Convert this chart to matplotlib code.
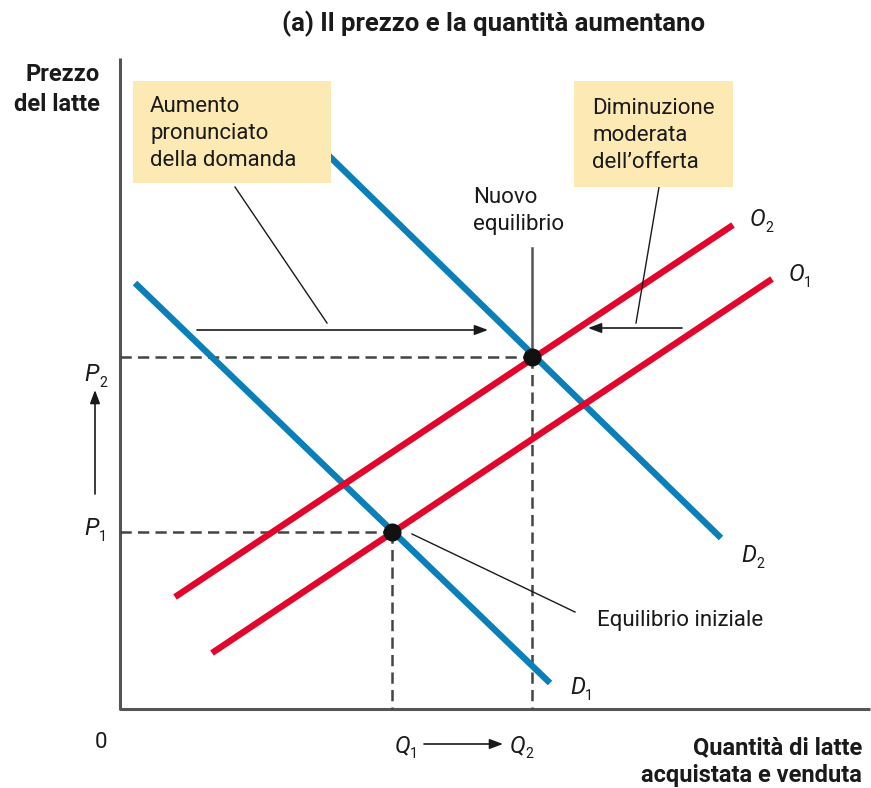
## Domanda e offerta di latte: aumento pronunciato della domanda, diminuzione moderata dell'offerta

import matplotlib.pyplot as plt
from matplotlib.patches import Rectangle

# everything is laid out in picture units (x to the right, y downwards)
W, H = 871, 788

# axes
axis_x = [120, 120, 870]
axis_y = [58, 709, 709]

# curves (start, end)
d1_x = [135, 550]
d1_y = [283, 683]
d2_x = [325, 721]
d2_y = [152, 538]
o1_x = [212, 772]
o1_y = [653, 279]
o2_x = [175, 733]
o2_y = [597, 225]

# equilibria
eq_x = [392, 532]   # Q1, Q2
eq_y = [532, 357]   # P1, P2

# note boxes: x, y, width, height
box_demand = [133, 81, 198, 102]
box_supply = [574, 81, 159, 106]

BLUE = '#0a7fb8'
RED = '#e2062c'
BOX = '#fce9b4'
GREY = '#555555'
INK = '#1a1a1a'
FONT = ['Roboto', 'DejaVu Sans']

fig = plt.figure(figsize=(W / 100, H / 100), dpi=100)
ax = fig.add_axes([0, 0, 1, 1])
ax.set_xlim(0, W)
ax.set_ylim(H, 0)
ax.axis('off')


def label(x, y, letter, sub, size=17):
    # italic letter with a small upright subscript
    ax.text(x, y, letter, fontsize=size, style='italic', family=FONT,
            ha='left', va='baseline', color=INK)
    ax.text(x + 15, y + 6, sub, fontsize=size * 0.6, family=FONT,
            ha='left', va='baseline', color=INK)


# title
ax.text(494, 31, '(a) Il prezzo e la quantità aumentano', fontsize=18.5, fontweight='bold',
        family=FONT, ha='center', va='baseline', color=INK)

# axes lines
ax.plot(axis_x, axis_y, color=GREY, lw=2.2, solid_capstyle='butt', zorder=2)

ax.text(100, 81, 'Prezzo', fontsize=17, fontweight='bold', family=FONT, ha='right', va='baseline', color=INK)
ax.text(100, 111, 'del latte', fontsize=17, fontweight='bold', family=FONT, ha='right', va='baseline', color=INK)
ax.text(862, 754, 'Quantità di latte', fontsize=17, fontweight='bold', family=FONT, ha='right', va='baseline', color=INK)
ax.text(862, 782, 'acquistata e venduta', fontsize=17, fontweight='bold', family=FONT, ha='right', va='baseline', color=INK)
ax.text(101, 748, '0', fontsize=16, family=FONT, ha='center', va='baseline', color=INK)

# dashed guide lines
for qx, py in zip(eq_x, eq_y):
    ax.plot([axis_x[0], qx], [py, py], color='#444444', lw=1.8, ls=(0, (4.5, 2.5)), zorder=2)
    ax.plot([qx, qx], [py, axis_y[1]], color='#444444', lw=1.8, ls=(0, (4.5, 2.5)), zorder=2)

# curves
ax.plot(d1_x, d1_y, color=BLUE, lw=4.6, solid_capstyle='butt', zorder=3)
ax.plot(d2_x, d2_y, color=BLUE, lw=4.6, solid_capstyle='butt', zorder=3)
ax.plot(o1_x, o1_y, color=RED, lw=4.6, solid_capstyle='butt', zorder=3)
ax.plot(o2_x, o2_y, color=RED, lw=4.6, solid_capstyle='butt', zorder=3)
ax.plot(eq_x, eq_y, 'o', color='#111111', ms=12, zorder=5)

label(741, 562, 'D', '2')
label(570, 694, 'D', '1')
label(750, 226, 'O', '2')
label(789, 281, 'O', '1')
label(84, 381, 'P', '2')
label(84, 535, 'P', '1')
label(395, 752, 'Q', '1')
label(510, 752, 'Q', '2')

# shift arrows
arrow = dict(arrowstyle='-|>,head_length=0.8,head_width=0.3', color=INK, lw=1.2, shrinkA=0, shrinkB=0)
ax.annotate('', xy=(95, 390), xytext=(95, 494), arrowprops=arrow)
ax.annotate('', xy=(503, 744), xytext=(424, 744), arrowprops=arrow)
ax.annotate('', xy=(488, 330), xytext=(197, 330), arrowprops=arrow)
ax.annotate('', xy=(588, 328), xytext=(682, 328), arrowprops=arrow)

# leader lines
ax.plot([235, 327], [187, 323], color=INK, lw=1.0, zorder=4)
ax.plot([659, 636], [187, 323], color=INK, lw=1.0, zorder=4)
ax.plot([532, 532], [248, 350], color=GREY, lw=1.8, zorder=2)
ax.plot([412, 575], [534, 612], color=INK, lw=1.0, zorder=4)

# note boxes
for bx, by, bw, bh in [box_demand, box_supply]:
    ax.add_patch(Rectangle((bx, by), bw, bh, facecolor=BOX, edgecolor='none', zorder=6))

for i, line in enumerate(['Aumento', 'pronunciato', 'della domanda']):
    ax.text(150, 112 + i * 27, line, fontsize=16, family=FONT, ha='left', va='baseline', color=INK, zorder=7)
for i, line in enumerate(['Diminuzione', 'moderata', 'dell\u2019offerta']):
    ax.text(592, 114 + i * 27, line, fontsize=16, family=FONT, ha='left', va='baseline', color=INK, zorder=7)
for i, line in enumerate(['Nuovo', 'equilibrio']):
    ax.text(473, 203 + i * 27, line, fontsize=16, family=FONT, ha='left', va='baseline', color=INK)
ax.text(597, 626, 'Equilibrio iniziale', fontsize=16, family=FONT, ha='left', va='baseline', color=INK)

fig.savefig('out.png', dpi=100)
